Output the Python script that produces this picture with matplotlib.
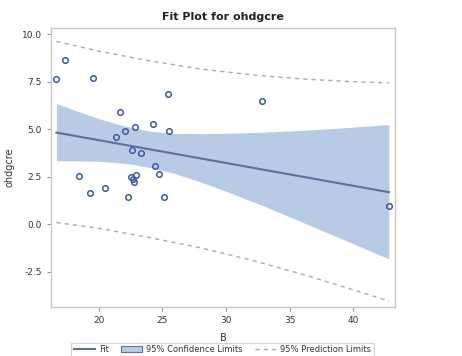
# fit plot for ohdgcre vs B, with confidence and prediction limits

import matplotlib.pyplot as plt
from matplotlib.patches import Patch
from matplotlib.lines import Line2D

# observed points
b_obs = [16.67, 17.38, 19.58, 21.63, 25.45, 32.83, 24.24, 22.88, 22.04, 25.5,
         21.34, 22.62, 23.3, 24.45, 24.71, 18.43, 22.53, 22.92, 22.66, 22.76,
         20.49, 19.3, 22.29, 25.1, 42.8]
y_obs = [7.65, 8.65, 7.70, 5.88, 6.83, 6.47, 5.28, 5.12, 4.89, 4.88,
         4.58, 3.89, 3.74, 3.07, 2.63, 2.51, 2.47, 2.59, 2.35, 2.21,
         1.91, 1.65, 1.44, 1.44, 0.96]

# fit line end points
b_fit = [16.67, 42.8]
y_fit = [4.82, 1.68]

# 95% confidence band
b_ci = [16.67, 18, 20, 22, 24, 26, 28, 30, 33, 36, 39, 42.8]
ci_upper = [6.35, 6.02, 5.55, 5.17, 4.89, 4.78, 4.76, 4.78, 4.84, 4.94, 5.06, 5.24]
ci_lower = [3.33, 3.33, 3.31, 3.20, 2.99, 2.66, 2.22, 1.73, 0.94, 0.10, -0.75, -1.83]

# 95% prediction limits
b_pi = [16.67, 20, 24, 28, 32, 36, 40, 42.8]
pi_upper = [9.62, 9.11, 8.59, 8.17, 7.86, 7.64, 7.50, 7.44]
pi_lower = [0.08, -0.22, -0.71, -1.25, -1.90, -2.64, -3.46, -4.05]

xticks = [20, 25, 30, 35, 40]
yticks = [-2.5, 0.0, 2.5, 5.0, 7.5, 10.0]

band_color = '#b7cbe5'
fit_color = '#5d7198'
dot_color = '#3d5b9e'
pi_color = '#a8a8b8'
frame_color = '#c8c8c8'
text_color = '#333333'

fig = plt.figure(figsize=(4.62, 3.56), dpi=100)
ax = fig.add_axes([0.110, 0.1385, 0.745, 0.7825])

ax.fill_between(b_ci, ci_lower, ci_upper, color=band_color, linewidth=0)
ax.plot(b_fit, y_fit, color=fit_color, linewidth=1.5)
ax.plot(b_pi, pi_upper, color=pi_color, linewidth=1, linestyle=(0, (3, 3)))
ax.plot(b_pi, pi_lower, color=pi_color, linewidth=1, linestyle=(0, (3, 3)))
ax.plot(b_obs, y_obs, linestyle='none', marker='o', markersize=4,
        markerfacecolor='none', markeredgecolor=dot_color, markeredgewidth=1.1)

ax.set_xlim(16.23, 43.28)
ax.set_ylim(-4.35, 10.32)
ax.set_xticks(xticks)
ax.set_yticks(yticks)
ax.set_yticklabels(['%.1f' % v for v in yticks])
ax.tick_params(labelsize=6.5, colors=text_color, length=3, width=0.8, color='#999999')
for s in ax.spines.values():
    s.set_color(frame_color)
    s.set_linewidth(1)

ax.set_xlabel('B', fontsize=7, color=text_color)
ax.xaxis.set_label_coords(0.5, -0.095)
ax.set_ylabel('ohdgcre', fontsize=7, color=text_color)
ax.yaxis.set_label_coords(-0.105, 0.5)
ax.set_title('Fit Plot for ohdgcre', fontsize=8, fontweight='bold', color='#222222', pad=6)

handles = [Line2D([], [], color=fit_color, linewidth=1.5),
           Patch(facecolor=band_color, edgecolor=fit_color, linewidth=0.8),
           Line2D([], [], color=pi_color, linewidth=1, linestyle=(0, (3, 3)))]
labels = ['Fit', '95% Confidence Limits', '95% Prediction Limits']
leg = fig.legend(handles, labels, loc='center', bbox_to_anchor=(0.482, 0.018),
                 ncol=3, fontsize=6, frameon=True, fancybox=False,
                 handlelength=2.5, handleheight=0.8, columnspacing=1.5,
                 borderpad=0.3, handletextpad=0.5)
leg.get_frame().set_edgecolor(frame_color)
leg.get_frame().set_linewidth(0.8)
for t in leg.get_texts():
    t.set_color(text_color)

fig.savefig('out.png', dpi=100)
